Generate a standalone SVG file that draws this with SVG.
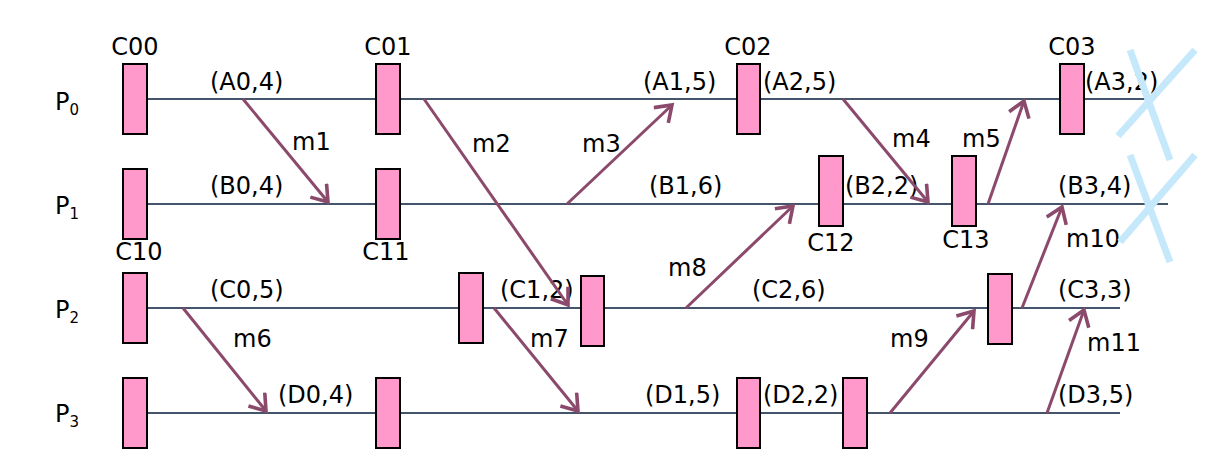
<svg xmlns="http://www.w3.org/2000/svg" width="1228" height="476" viewBox="0 0 1228 476">
<style>
text{font-family:"DejaVu Sans",Verdana,sans-serif;font-size:24px;fill:#000}
.sub{font-size:15px}
.tl{stroke:#44546a;stroke-width:2}
.ck{fill:#ff99cc;stroke:#000;stroke-width:2}
.m{stroke:#8b4a6b;stroke-width:3;fill:none;marker-end:url(#ah)}
.x{stroke:#c5e9fb;stroke-width:7}
</style>
<defs>
<marker id="ah" markerWidth="8" markerHeight="8" refX="6" refY="4" orient="auto" markerUnits="strokeWidth"><path d="M1,0.5 L6,4 L1,7.5" fill="none" stroke="#8b4a6b" stroke-width="1.2"/></marker>
</defs>
<rect width="1228" height="476" fill="#fff"/>
<g id="timelines">
<line class="tl" x1="147" y1="99" x2="1150" y2="99"/>
<line class="tl" x1="147" y1="204" x2="1168" y2="204"/>
<line class="tl" x1="147" y1="308" x2="1120" y2="308"/>
<line class="tl" x1="147" y1="413" x2="1120" y2="413"/>
</g>
<g id="labels">
<text x="55" y="110">P<tspan class="sub" dy="5">0</tspan></text>
<text x="55" y="214">P<tspan class="sub" dy="5">1</tspan></text>
<text x="55" y="318">P<tspan class="sub" dy="5">2</tspan></text>
<text x="55" y="422">P<tspan class="sub" dy="5">3</tspan></text>
</g>
<g id="checkpoints">
<g id="C00"><rect class="ck" x="123" y="64" width="24" height="70"/><text x="135" y="55" text-anchor="middle">C00</text></g>
<g id="C01"><rect class="ck" x="376" y="64" width="24" height="70"/><text x="388" y="55" text-anchor="middle">C01</text></g>
<g id="C02"><rect class="ck" x="737" y="64" width="23" height="70"/><text x="748" y="55" text-anchor="middle">C02</text></g>
<g id="C03"><rect class="ck" x="1060" y="64" width="24" height="70"/><text x="1072" y="55" text-anchor="middle">C03</text></g>
<g id="C10"><rect class="ck" x="123" y="169" width="24" height="70"/><text x="139" y="260" text-anchor="middle">C10</text></g>
<g id="C11"><rect class="ck" x="376" y="169" width="24" height="70"/><text x="386" y="260" text-anchor="middle">C11</text></g>
<g id="C12"><rect class="ck" x="819" y="156" width="24" height="70"/><text x="831" y="251" text-anchor="middle">C12</text></g>
<g id="C13"><rect class="ck" x="952" y="156" width="24" height="70"/><text x="966" y="248" text-anchor="middle">C13</text></g>
<g id="C2a"><rect class="ck" x="123" y="273" width="24" height="70"/></g>
<g id="C2b"><rect class="ck" x="459" y="273" width="24" height="70"/></g>
<g id="C2c"><rect class="ck" x="581" y="276" width="23" height="70"/></g>
<g id="C2d"><rect class="ck" x="988" y="274" width="24" height="70"/></g>
<g id="C3a"><rect class="ck" x="123" y="378" width="24" height="70"/></g>
<g id="C3b"><rect class="ck" x="376" y="378" width="24" height="70"/></g>
<g id="C3c"><rect class="ck" x="737" y="378" width="23" height="70"/></g>
<g id="C3d"><rect class="ck" x="843" y="378" width="24" height="70"/></g>
</g>
<g id="states">
<text x="210" y="90">(A0,4)</text>
<text x="643" y="90">(A1,5)</text>
<text x="763" y="90">(A2,5)</text>
<text x="1085" y="90">(A3,2)</text>
<text x="210" y="194">(B0,4)</text>
<text x="649" y="194">(B1,6)</text>
<text x="845" y="194">(B2,2)</text>
<text x="1058" y="194">(B3,4)</text>
<text x="210" y="298">(C0,5)</text>
<text x="500" y="298">(C1,2)</text>
<text x="752" y="298">(C2,6)</text>
<text x="1058" y="298">(C3,3)</text>
<text x="278" y="403">(D0,4)</text>
<text x="645" y="403">(D1,5)</text>
<text x="763" y="403">(D2,2)</text>
<text x="1058" y="403">(D3,5)</text>
</g>
<g id="connectors">
<line class="m" x1="243" y1="99" x2="328" y2="202"/>
<line class="m" x1="424" y1="99" x2="568" y2="305"/>
<line class="m" x1="567" y1="204" x2="672" y2="105"/>
<line class="m" x1="843" y1="99" x2="928" y2="202"/>
<line class="m" x1="988" y1="204" x2="1024" y2="101"/>
<line class="m" x1="183" y1="308" x2="266" y2="411"/>
<line class="m" x1="494" y1="308" x2="578" y2="411"/>
<line class="m" x1="686" y1="308" x2="793" y2="206"/>
<line class="m" x1="890" y1="413" x2="974" y2="311"/>
<line class="m" x1="1022" y1="308" x2="1062" y2="207"/>
<line class="m" x1="1047" y1="413" x2="1084" y2="310"/>
</g>
<g id="msglabels">
<text x="292" y="150">m1</text>
<text x="472" y="152">m2</text>
<text x="582" y="152">m3</text>
<text x="892" y="147">m4</text>
<text x="962" y="147">m5</text>
<text x="233" y="347">m6</text>
<text x="530" y="347">m7</text>
<text x="668" y="276">m8</text>
<text x="890" y="347">m9</text>
<text x="1066" y="247">m10</text>
<text x="1087" y="351">m11</text>
</g>
<g id="crosses">
<line class="x" x1="1118" y1="136" x2="1195" y2="50"/>
<line class="x" x1="1130" y1="50" x2="1170" y2="160"/>
<line class="x" x1="1120" y1="242" x2="1195" y2="155"/>
<line class="x" x1="1130" y1="155" x2="1170" y2="262"/>
</g>
</svg>
